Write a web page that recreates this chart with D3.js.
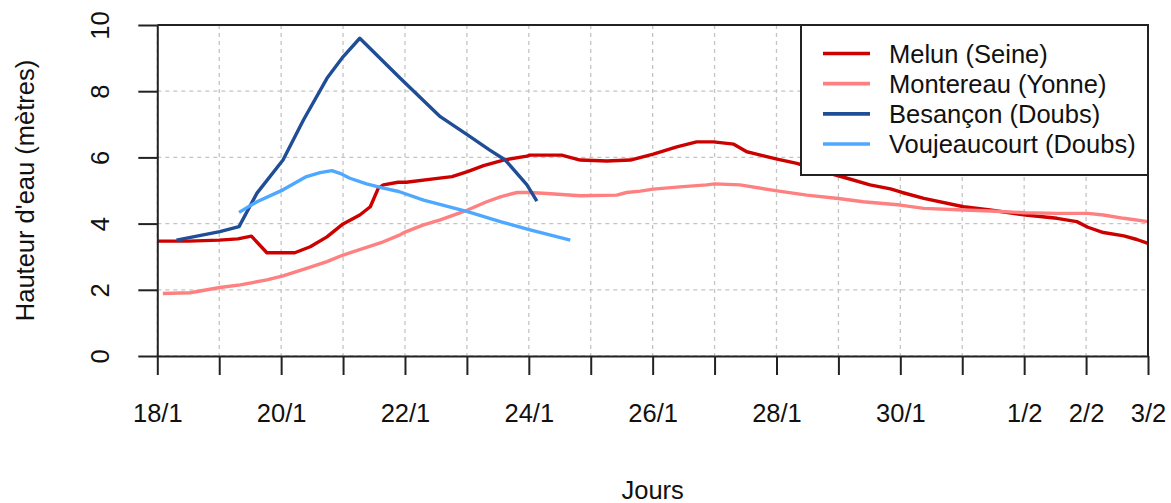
<!DOCTYPE html>
<html>
<head>
<meta charset="utf-8">
<script src="https://cdn.jsdelivr.net/npm/d3@7"></script>
<style>
  html, body { margin: 0; padding: 0; background: #fff; }
  svg { display: block; font-family: "Liberation Sans", Arial, sans-serif; }
</style>
</head>
<body>
<svg id="chart" width="1171" height="503"></svg>
<script>
// Water heights during the January 2018 flood; x = days elapsed since 18/1 00:00.
const melunDays = [0, 0.5, 1.0, 1.3, 1.52, 1.77, 2.22, 2.47, 2.74, 3.0, 3.27, 3.44, 3.57, 3.65, 3.89,
  4.02, 4.46, 4.76, 5.01, 5.27, 5.59, 5.97, 6.02, 6.53, 6.83, 7.26, 7.64, 8.01, 8.39, 8.71, 8.98,
  9.31, 9.52, 9.63, 10.01, 10.33, 10.7, 11.14, 11.51, 11.84, 12.03, 12.38, 13.02, 13.45, 14.02,
  14.53, 14.85, 15.03, 15.28, 15.61, 15.82, 16.0];
const melunValues = [3.47, 3.47, 3.5, 3.54, 3.62, 3.12, 3.12, 3.3, 3.6, 3.99, 4.26, 4.51, 5.07, 5.17, 5.25,
  5.25, 5.35, 5.42, 5.57, 5.75, 5.92, 6.04, 6.07, 6.07, 5.92, 5.89, 5.92, 6.1, 6.32, 6.47, 6.47,
  6.4, 6.17, 6.12, 5.95, 5.82, 5.6, 5.37, 5.17, 5.05, 4.94, 4.76, 4.51, 4.41, 4.26,
  4.16, 4.06, 3.89, 3.73, 3.63, 3.52, 3.4];

const montereauDays = [0.09, 0.53, 1.01, 1.34, 1.77, 2.03, 2.41, 2.74, 3.0, 3.33, 3.65, 3.92, 4.02,
  4.3, 4.57, 5.01, 5.32, 5.54, 5.81, 6.02, 6.29, 6.83, 7.42, 7.58, 7.8, 8.01, 8.44, 8.87, 9.0,
  9.41, 10.01, 10.49, 11.0, 11.4, 12.0, 12.38, 13.02, 13.45, 14.02, 14.53, 15.03, 15.28, 15.61, 16.0];
const montereauValues = [1.89, 1.91, 2.07, 2.15, 2.3, 2.42, 2.65, 2.85, 3.05, 3.25, 3.45, 3.66, 3.76,
  3.96, 4.11, 4.41, 4.66, 4.81, 4.94, 4.94, 4.91, 4.84, 4.86, 4.94, 4.98, 5.04, 5.11, 5.17, 5.2,
  5.17, 4.99, 4.86, 4.76, 4.66, 4.56, 4.46, 4.41, 4.38, 4.33, 4.31, 4.31, 4.26, 4.16, 4.06];

const besanconDays = [0.31, 1.01, 1.32, 1.61, 2.03, 2.36, 2.74, 3.0, 3.27, 3.92, 4.57, 5.01, 5.37,
  5.62, 5.97, 6.13];
const besanconValues = [3.5, 3.76, 3.91, 4.92, 5.92, 7.13, 8.39, 9.04, 9.6, 8.4, 7.23, 6.68, 6.22,
  5.92, 5.17, 4.68];

const voujeaucourtDays = [1.32, 1.61, 2.03, 2.41, 2.63, 2.82, 2.95, 3.11, 3.38, 3.65, 3.9, 4.3, 5.01,
  5.54, 6.02, 6.67];
const voujeaucourtValues = [4.34, 4.66, 5.02, 5.42, 5.54, 5.6, 5.52, 5.37, 5.2, 5.07, 4.97, 4.71, 4.36,
  4.06, 3.81, 3.5];

const seriesNames = ["Melun (Seine)", "Montereau (Yonne)", "Besançon (Doubs)", "Voujeaucourt (Doubs)"];
const seriesColors = ["#cd0000", "#ff8080", "#1f4e96", "#4fa8ff"];

// One tick per day; only some of them carry a label.
const tickDays = d3.range(0, 17);
const tickLabels = ["18/1", "", "20/1", "", "22/1", "", "24/1", "", "26/1", "", "28/1", "", "30/1", "",
  "1/2", "2/2", "3/2"];
const yTicks = [0, 2, 4, 6, 8, 10];

const series = [
  { days: melunDays, values: melunValues },
  { days: montereauDays, values: montereauValues },
  { days: besanconDays, values: besanconValues },
  { days: voujeaucourtDays, values: voujeaucourtValues }
];

const svg = d3.select("#chart");
const plotLeft = 157.3, plotRight = 1148, plotTop = 25, plotBottom = 356;
const x = d3.scaleLinear().domain([0, 16]).range([plotLeft, plotRight]);
const y = d3.scaleLinear().domain([0, 10]).range([plotBottom, plotTop]);
const tickLen = 19;
const axisColor = "#222";
const fontSize = 25.5;

// grid
const grid = svg.append("g").attr("stroke", "#c4c4c4").attr("stroke-width", 1.3)
  .attr("stroke-dasharray", "4,4").attr("fill", "none");
grid.selectAll("line.v").data(tickDays).join("line").attr("class", "v")
  .attr("x1", d => x(d)).attr("x2", d => x(d)).attr("y1", plotTop).attr("y2", plotBottom);
grid.selectAll("line.h").data(yTicks).join("line").attr("class", "h")
  .attr("x1", plotLeft).attr("x2", plotRight).attr("y1", d => y(d)).attr("y2", d => y(d));

// series lines
const line = d3.line().x(d => x(d[0])).y(d => y(d[1]));
series.forEach((s, i) => {
  svg.append("path")
    .datum(s.days.map((d, k) => [d, s.values[k]]))
    .attr("fill", "none")
    .attr("stroke", seriesColors[i])
    .attr("stroke-width", 3.4)
    .attr("stroke-linejoin", "round")
    .attr("d", line);
});

// axes
const xAxis = d3.axisBottom(x).tickValues(tickDays).tickSize(tickLen).tickSizeOuter(0)
  .tickFormat((d, i) => tickLabels[i]);
const gx = svg.append("g").attr("transform", `translate(0,${plotBottom})`).call(xAxis);
gx.select(".domain").attr("stroke", axisColor).attr("stroke-width", 2);
gx.selectAll(".tick line").attr("stroke", axisColor).attr("stroke-width", 2);
gx.selectAll(".tick text").attr("font-size", fontSize).attr("fill", "#111")
  .attr("font-family", "Liberation Sans, Arial, sans-serif")
  .attr("dy", 0).attr("y", 57).attr("dominant-baseline", "central");

const yAxis = d3.axisLeft(y).tickValues(yTicks).tickSize(tickLen).tickSizeOuter(0);
const gy = svg.append("g").attr("transform", `translate(${plotLeft},0)`).call(yAxis);
gy.select(".domain").attr("stroke", axisColor).attr("stroke-width", 2);
gy.selectAll(".tick line").attr("stroke", axisColor).attr("stroke-width", 2);
gy.selectAll(".tick text").attr("font-size", fontSize).attr("fill", "#111")
  .attr("font-family", "Liberation Sans, Arial, sans-serif")
  .attr("x", 0).attr("dy", 0)
  .attr("transform", "translate(-57,0) rotate(-90)")
  .attr("text-anchor", "middle").attr("dominant-baseline", "central");

// box top and right edges
svg.append("path")
  .attr("d", `M${plotLeft},${plotTop}H${plotRight}V${plotBottom}`)
  .attr("fill", "none").attr("stroke", axisColor).attr("stroke-width", 2);

// axis titles
svg.append("text").attr("x", (plotLeft + plotRight) / 2).attr("y", 490)
  .attr("text-anchor", "middle").attr("dominant-baseline", "central")
  .attr("font-size", fontSize).attr("fill", "#111").text("Jours");
svg.append("text").attr("transform", `translate(25,${(plotTop + plotBottom) / 2}) rotate(-90)`)
  .attr("text-anchor", "middle").attr("dominant-baseline", "central")
  .attr("font-size", fontSize).attr("fill", "#111").text("Hauteur d'eau (mètres)");

// legend
const legX = 801, legY = plotTop, legW = plotRight - legX, legH = 150;
const leg = svg.append("g");
leg.append("rect").attr("x", legX).attr("y", legY).attr("width", legW).attr("height", legH)
  .attr("fill", "#fff").attr("stroke", axisColor).attr("stroke-width", 2);
const rowY = d3.scaleLinear().domain([0, 3]).range([53.5, 144]);
seriesNames.forEach((name, i) => {
  leg.append("line").attr("x1", 823).attr("x2", 870).attr("y1", rowY(i)).attr("y2", rowY(i))
    .attr("stroke", seriesColors[i]).attr("stroke-width", 3.6);
  leg.append("text").attr("x", 889).attr("y", rowY(i)).attr("dominant-baseline", "central")
    .attr("font-size", fontSize).attr("fill", "#111").text(name);
});
</script>
</body>
</html>
